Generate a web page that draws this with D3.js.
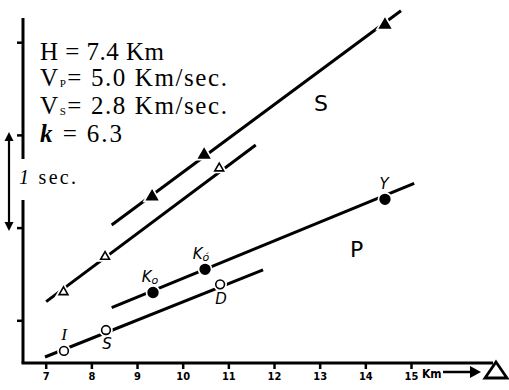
<!DOCTYPE html>
<html>
<head>
<meta charset="utf-8">
<script src="https://cdn.jsdelivr.net/npm/d3@7"></script>
<style>
  html, body { margin: 0; padding: 0; background: #fff; }
  svg { display: block; }
</style>
</head>
<body>
<svg id="chart" width="509" height="390"></svg>
<script>
// ── Data ───────────────────────────────────────────────────
const xTicks = [7, 8, 9, 10, 11, 12, 13, 14, 15];
const yTicks = [0, 1, 2, 3];           // 1 sec. per division (relative time)

// P, open circles
const pOpenX = [7.40, 8.32, 10.82];
const pOpenT = [-0.33, -0.105, 0.388];
const pOpenLabels = ['I', 'S', 'D'];

// P, filled circles
const pFillX = [9.35, 10.49, 14.43];
const pFillT = [0.300, 0.550, 1.305];
const pFillLabels = ['Ko', "Ko'", 'Y'];

// S, open triangles
const sOpenX = [7.39, 8.30, 10.80];
const sOpenT = [0.305, 0.686, 1.640];

// S, filled triangles
const sFillX = [9.33, 10.47, 14.43];
const sFillT = [1.333, 1.783, 3.186];

// fitted lines: [x0, t0, x1, t1]
const pOpenLine = [6.985, -0.396, 11.76, 0.543];
const pFillLine = [8.445, 0.136, 15.07, 1.478];
const sOpenLine = [7.01, 0.201, 11.60, 1.891];
const sFillLine = [8.445, 1.028, 14.78, 3.340];

const paramLines = [
  ['H', '', ' = 7.4 Km'],
  ['V', 'P', '= 5.0 Km/sec.'],
  ['V', 'S', '= 2.8 Km/sec.'],
  ['k', '', ' = 6.3']
];

// ── Setup ──────────────────────────────────────────────────
const svg = d3.select('#chart');
const x = d3.scaleLinear().domain([7, 15]).range([45.7, 411]);
const y = d3.scaleLinear().domain([0, 3]).range([320.3, 42.2]);

const axisY0 = 363;   // baseline
const axisX0 = 23;    // left vertical line

// ── Axes ───────────────────────────────────────────────────
svg.append('line')
  .attr('x1', axisX0 - 1.5).attr('x2', 493)
  .attr('y1', axisY0).attr('y2', axisY0)
  .attr('stroke', '#000').attr('stroke-width', 3);

// vertical axis in two parts, gap for "1 sec."
[[18, 159], [200, axisY0]].forEach(([a, b]) => {
  svg.append('line')
    .attr('x1', axisX0).attr('x2', axisX0)
    .attr('y1', a).attr('y2', b)
    .attr('stroke', '#000').attr('stroke-width', 3);
});

const gx = svg.append('g')
  .attr('transform', `translate(0,${axisY0})`)
  .call(d3.axisBottom(x).tickValues(xTicks).tickSize(6).tickPadding(3).tickFormat(d3.format('d')));
gx.select('.domain').remove();
gx.selectAll('.tick line').attr('stroke', '#000').attr('stroke-width', 2.5);
gx.selectAll('.tick text')
  .attr('font-family', 'DejaVu Sans Condensed, DejaVu Sans, sans-serif')
  .attr('font-weight', 'bold')
  .attr('font-size', 11)
  .attr('fill', '#000');

const gy = svg.append('g')
  .attr('transform', `translate(${axisX0},0)`)
  .call(d3.axisLeft(y).tickValues(yTicks).tickSize(6).tickFormat(''));
gy.select('.domain').remove();
gy.selectAll('.tick line').attr('stroke', '#000').attr('stroke-width', 2.5);

// "Km -> Δ"
svg.append('text')
  .attr('x', 422).attr('y', 378)
  .attr('font-family', 'DejaVu Sans Condensed, DejaVu Sans, sans-serif')
  .attr('font-weight', 'bold').attr('font-size', 12)
  .text('Km');
svg.append('line')
  .attr('x1', 443).attr('x2', 472).attr('y1', 372).attr('y2', 372)
  .attr('stroke', '#000').attr('stroke-width', 2.5);
svg.append('path')
  .attr('d', 'M470,366 L481,372 L470,378 Z')
  .attr('fill', '#000');
svg.append('path')
  .attr('d', 'M496,362 L507,378 L485,378 Z')
  .attr('fill', 'none').attr('stroke', '#000').attr('stroke-width', 2.8)
  .attr('stroke-linejoin', 'miter');

// 1 sec. double arrow
svg.append('line')
  .attr('x1', 9).attr('x2', 9).attr('y1', 138).attr('y2', 226)
  .attr('stroke', '#000').attr('stroke-width', 2.2);
svg.append('path').attr('d', 'M4.5,141 L9,132 L13.5,141 Z').attr('fill', '#000');
svg.append('path').attr('d', 'M4.5,222 L9,231 L13.5,222 Z').attr('fill', '#000');
const secT = svg.append('text')
  .attr('x', 19).attr('y', 184)
  .attr('font-family', 'Liberation Serif, serif')
  .attr('font-size', 20)
  .attr('textLength', 57)
  .attr('lengthAdjust', 'spacing');
secT.append('tspan').attr('font-style', 'italic').text('1');
secT.append('tspan').text(' sec.');

// ── Parameter block ────────────────────────────────────────
const baselines = [60, 86, 114, 142];
const blockWidths = [124, 187, 187, 82];
paramLines.forEach((p, i) => {
  const t = svg.append('text')
    .attr('x', 40).attr('y', baselines[i])
    .attr('font-family', 'Liberation Serif, serif')
    .attr('font-size', 25)
    .attr('textLength', blockWidths[i])
    .attr('lengthAdjust', 'spacing')
    .attr('fill', '#000');
  const main = t.append('tspan').text(p[0]);
  if (p[0] === 'k') main.attr('font-style', 'italic').attr('font-weight', 'bold');
  if (p[1]) {
    t.append('tspan').attr('font-size', 11).attr('dy', 1).text(p[1]);
    t.append('tspan').attr('dy', -1).text(p[2]);
  } else {
    t.append('tspan').text(p[2]);
  }
});

// ── Lines ──────────────────────────────────────────────────
[pOpenLine, pFillLine, sOpenLine, sFillLine].forEach(l => {
  svg.append('line')
    .attr('x1', x(l[0])).attr('y1', y(l[1]))
    .attr('x2', x(l[2])).attr('y2', y(l[3]))
    .attr('stroke', '#000').attr('stroke-width', 3)
    .attr('stroke-linecap', 'butt');
});

// ── Markers ────────────────────────────────────────────────
function markers(xs, ts, type, filled, size) {
  const sym = d3.symbol().type(type).size(size);
  const g = svg.append('g');
  xs.forEach((xv, i) => {
    const tr = `translate(${x(xv)},${y(ts[i])})`;
    // white halo breaks the line around the marker
    g.append('path').attr('d', sym()).attr('transform', tr)
      .attr('fill', '#fff').attr('stroke', '#fff').attr('stroke-width', 5);
    g.append('path').attr('d', sym()).attr('transform', tr)
      .attr('fill', filled ? '#000' : '#fff')
      .attr('stroke', '#000').attr('stroke-width', 1.6);
  });
}
markers(pOpenX, pOpenT, d3.symbolCircle, false, 60);
markers(pFillX, pFillT, d3.symbolCircle, true, 75);
markers(sOpenX, sOpenT, d3.symbolTriangle, false, 34);
markers(sFillX, sFillT, d3.symbolTriangle, true, 48);

// ── Station labels ─────────────────────────────────────────
const labFont = 'DejaVu Sans, sans-serif';
const pOpenOff = [[0, -11], [1, 19], [1, 20]];
pOpenLabels.forEach((lab, i) => {
  svg.append('text')
    .attr('x', x(pOpenX[i]) + pOpenOff[i][0]).attr('y', y(pOpenT[i]) + pOpenOff[i][1])
    .attr('text-anchor', 'middle')
    .attr('font-family', i === 0 ? 'Liberation Serif, serif' : labFont).attr('font-style', 'italic')
    .attr('font-size', i === 0 ? 17 : 15)
    .text(lab);
});
const pFillOff = [[-3, -10], [-4, -10], [-1, -10]];
pFillLabels.forEach((lab, i) => {
  const t = svg.append('text')
    .attr('x', x(pFillX[i]) + pFillOff[i][0]).attr('y', y(pFillT[i]) + pFillOff[i][1])
    .attr('text-anchor', 'middle')
    .attr('font-family', labFont).attr('font-style', 'italic')
    .attr('font-size', 15);
  if (lab.startsWith('K')) {
    t.append('tspan').text('K');
    t.append('tspan').attr('font-size', 11).attr('dy', 2)
      .text(lab.endsWith("'") ? 'ó' : 'o');
  } else {
    t.text(lab);
  }
});

// Phase labels
svg.append('text').attr('x', 350).attr('y', 257)
  .attr('font-family', 'DejaVu Sans, sans-serif').attr('font-size', 22)
  .text('P');
svg.append('text').attr('x', 314).attr('y', 111)
  .attr('font-family', 'DejaVu Sans, sans-serif').attr('font-size', 22)
  .text('S');
</script>
</body>
</html>
